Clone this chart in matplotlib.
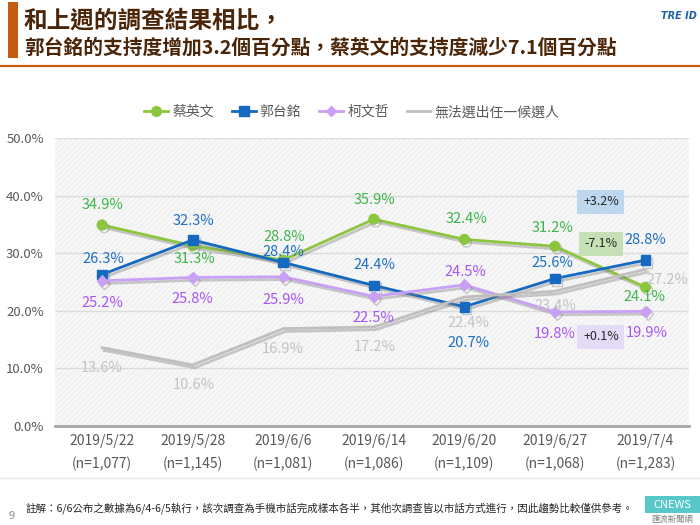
import numpy as np
import matplotlib
matplotlib.use("Agg")
import matplotlib.pyplot as plt
import matplotlib.patheffects as pe
from matplotlib.patches import Rectangle
from matplotlib.lines import Line2D

plt.rcParams['font.family'] = ['Noto Sans CJK TC', 'DejaVu Sans']
plt.rcParams['hatch.linewidth'] = 0.6

# ---------------------------------------------------------------------
# DATA
# ---------------------------------------------------------------------
dates = ["2019/5/22", "2019/5/28", "2019/6/6", "2019/6/14", "2019/6/20", "2019/6/27", "2019/7/4"]
samples = ["1,077", "1,145", "1,081", "1,086", "1,109", "1,068", "1,283"]

tsai = [34.9, 31.3, 28.8, 35.9, 32.4, 31.2, 24.1]
gou = [26.3, 32.3, 28.4, 24.4, 20.7, 25.6, 28.8]
ko = [25.2, 25.8, 25.9, 22.5, 24.5, 19.8, 19.9]
none_ = [13.6, 10.6, 16.9, 17.2, 22.4, 23.4, 27.2]

series_names = ["蔡英文", "郭台銘", "柯文哲", "無法選出任一候選人"]
changes = ["+3.2%", "-7.1%", "+0.1%"]
change_y = [38.9, 31.6, 15.5]

# label offsets in pixels (dx, dy) per point
off_tsai = [(0, 20), (2, -13), (1, 23), (1, 19), (2, 20), (-2, 18), (-1, -10)]
off_gou = [(1, 16), (1, 19), (0, 10), (1, 20), (4, -36), (-3, 16), (0, 20)]
off_ko = [(0, -22), (0, -22), (0, -23), (0, -22), (1, 13), (0, -22), (1, -22)]
off_none = [(0, -20), (1, -20), (0, -20), (1, -20), (4, -26), (0, -15), (22, -11)]

line_cols = ['#8cc63f', '#1569c0', '#c9a0f5', '#bfbfbf']
text_cols = ['#3cb54a', '#1f6fc5', '#a855f7', '#c3c3c3']
box_cols = ['#bdd7ee', '#c5e0b4', '#e4dbf6']

W, H = 700, 525
fig = plt.figure(figsize=(7, 5.25), dpi=100)
fig.patch.set_facecolor('white')

def fx(px):
    return px / W

def fy(py):
    return 1 - py / H

# ---------------------------------------------------------------------
# Header
# ---------------------------------------------------------------------
fig.patches.append(Rectangle((fx(8), fy(58)), fx(10), 56 / H, transform=fig.transFigure,
                             facecolor='#c55a11', edgecolor='none'))
fig.add_artist(Line2D([0, 1], [fy(66), fy(66)], transform=fig.transFigure,
                      color='#c55a11', lw=1.6))
fig.text(fx(24), fy(21), "和上週的調查結果相比，", fontsize=17, fontweight='bold',
         color='#4a2508', va='center', ha='left')
fig.text(fx(24), fy(48), "郭台銘的支持度增加3.2個百分點，蔡英文的支持度減少7.1個百分點",
         fontsize=14.2, fontweight='bold', color='#4a2508', va='center', ha='left')
fig.text(fx(697), fy(16), "TRE ID", fontsize=7, fontweight='bold', style='italic',
         color='#1f5fa8', ha='right', va='center', family='DejaVu Sans')

# ---------------------------------------------------------------------
# Chart
# ---------------------------------------------------------------------
ax = fig.add_axes([fx(55), fy(426), 634 / W, 288 / H])
ax.set_facecolor('#f7f7f7')
ax.add_patch(Rectangle((0, 0), 1, 1, transform=ax.transAxes, facecolor='none',
                       edgecolor='#ebebeb', hatch='//////', lw=0, zorder=0))

x = np.arange(len(dates))
shadow = [pe.SimpleLineShadow(offset=(1.5, -2), shadow_color='#7f7f7f', alpha=0.4), pe.Normal()]

all_vals = [tsai, gou, ko, none_]
markers = ['o', 's', 'D', None]
msizes = [7, 7, 5.5, 0]
offsets = [off_tsai, off_gou, off_ko, off_none]
order = [3, 2, 0, 1]
for i in order:
    ax.plot(x, all_vals[i], color=line_cols[i], lw=2, marker=markers[i], ms=msizes[i],
            path_effects=shadow, zorder=3 + i)

for i in range(4):
    for xi, v, (dx, dy) in zip(x, all_vals[i], offsets[i]):
        ax.annotate(f"{v:.1f}%", (xi, v), xytext=(dx, dy), textcoords='offset pixels',
                    ha='center', va='center', fontsize=10.5, color=text_cols[i], zorder=10)

for txt, yy, bc in zip(changes, change_y, box_cols):
    ax.annotate(txt, (5, yy), xytext=(46, 0), textcoords='offset pixels', ha='center',
                va='center', fontsize=9, color='#262626', zorder=11,
                bbox=dict(boxstyle='square,pad=0.45', facecolor=bc, edgecolor='none'))

ax.set_xlim(-0.52, 6.48)
ax.set_ylim(0, 50)
ax.set_yticks([0, 10, 20, 30, 40, 50])
ax.set_yticklabels([f"{t:.1f}%" for t in [0, 10, 20, 30, 40, 50]])
ax.set_xticks(x)
ax.set_xticklabels([f"{d}\n(n={n})" for d, n in zip(dates, samples)], linespacing=1.7)
ax.tick_params(axis='both', length=0, colors='#595959', labelsize=10)
ax.tick_params(axis='y', pad=8, labelsize=9.5)
ax.tick_params(axis='x', pad=6)
ax.grid(axis='y', color='#dcdcdc', lw=1)
ax.set_axisbelow(True)
for s in ['top', 'right', 'left']:
    ax.spines[s].set_visible(False)
ax.spines['bottom'].set_color('#a6a6a6')
ax.spines['bottom'].set_linewidth(2)

handles = [Line2D([], [], color=line_cols[i], lw=2, marker=markers[i], ms=msizes[i])
           for i in range(4)]
fig.legend(handles, series_names, loc='center',
           bbox_to_anchor=(fx(352), fy(112)), ncol=4, frameon=False, fontsize=10,
           handlelength=1.7, handletextpad=0.3, columnspacing=1.3, labelcolor='#595959')

# ---------------------------------------------------------------------
# Footer
# ---------------------------------------------------------------------
fig.add_artist(Line2D([0, 1], [fy(478), fy(478)], transform=fig.transFigure,
                      color='#e6e6e6', lw=1))
fig.text(fx(12), fy(516), "9", fontsize=8, color='#8c8c8c', ha='center', va='center')
fig.text(fx(26), fy(508), "註解：6/6公布之數據為6/4-6/5執行，該次調查為手機市話完成樣本各半，其他次調查皆以市話方式進行，因此趨勢比較僅供參考。",
         fontsize=7.6, color='#262626', ha='left', va='center')
fig.patches.append(Rectangle((fx(645), fy(513)), 55 / W, 17 / H, transform=fig.transFigure,
                             facecolor='#57c7c9', edgecolor='none'))
fig.text(fx(672), fy(504.5), "CNEWS", fontsize=8, color='white', ha='center', va='center')
fig.text(fx(672), fy(519), "匯流新聞網", fontsize=6, color='#7f7f7f', ha='center', va='center')

fig.savefig("out.png", dpi=100)
